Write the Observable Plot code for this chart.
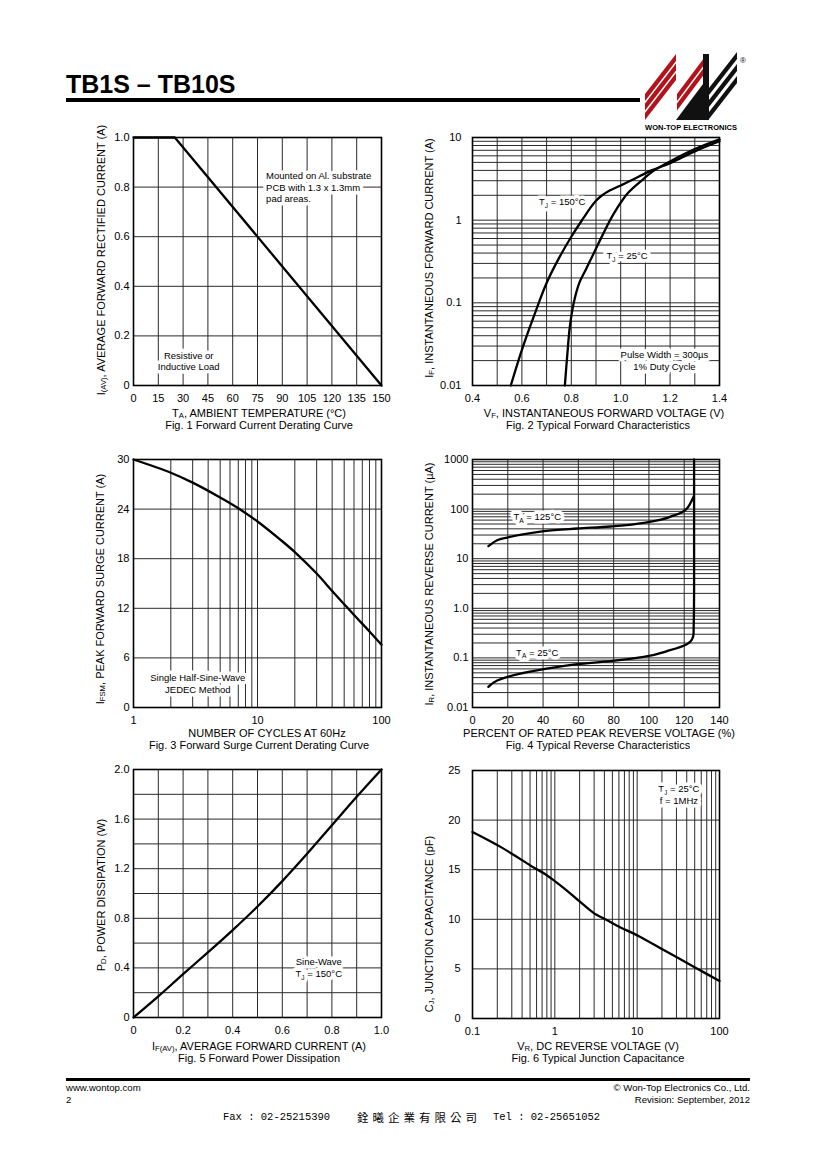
<!DOCTYPE html>
<html>
<head>
<meta charset="utf-8">
<script src="https://cdn.jsdelivr.net/npm/d3@7"></script>
<script src="https://cdn.jsdelivr.net/npm/@observablehq/plot@0.6"></script>
<style>
  html, body { margin: 0; padding: 0; background: #fff; }
  #page { position: relative; width: 820px; height: 1160px; background: #fff; overflow: hidden;
          font-family: 'Liberation Sans', Arial, Helvetica, sans-serif; color: #000; }
  .abs { position: absolute; white-space: nowrap; }
  .cap { transform: translate(-50%, -50%); font-size: 11px; line-height: 12px; text-align: center; }
  .rot { transform: translate(-50%, -50%) rotate(-90deg); font-size: 11px; line-height: 13px; }
  sub { font-size: 0.7em; vertical-align: -0.15em; line-height: 0; }
</style>
</head>
<body>
<div id="page"></div>
<script>
// ---------------- DATA ----------------
// Fig. 1 Forward current derating
const fig1Temp = [0, 25, 150];
const fig1Current = [1.0, 1.0, 0];
const fig1XTicks = [0, 15, 30, 45, 60, 75, 90, 105, 120, 135, 150];
const fig1YTicks = [0, 0.2, 0.4, 0.6, 0.8, 1.0];
const fig1YLabels = ["0", "0.2", "0.4", "0.6", "0.8", "1.0"];

// Fig. 2 Typical forward characteristics
const fig2V150 = [0.555, 0.6, 0.65, 0.7, 0.75, 0.8, 0.85, 0.875, 0.9, 0.925, 0.95, 1.0, 1.05, 1.12, 1.2, 1.3, 1.4];
const fig2I150 = [0.01, 0.027, 0.071, 0.174, 0.347, 0.63, 1.07, 1.38, 1.72, 2.0, 2.24, 2.63, 3.1, 3.95, 4.9, 6.8, 9.0];
const fig2V25 = [0.774, 0.784, 0.794, 0.81, 0.831, 0.86, 0.891, 0.93, 0.972, 1.03, 1.093, 1.13, 1.2, 1.3, 1.4];
const fig2I25 = [0.01, 0.024, 0.051, 0.1, 0.17, 0.257, 0.398, 0.692, 1.2, 2.14, 3.16, 3.89, 5.13, 7.24, 9.5];
const fig2XGrid = [0.4, 0.5, 0.6, 0.7, 0.8, 0.9, 1.0, 1.1, 1.2, 1.3, 1.4];
const fig2XTicks = [0.4, 0.6, 0.8, 1.0, 1.2, 1.4];
const fig2XLabels = ["0.4", "0.6", "0.8", "1.0", "1.2", "1.4"];
const fig2YGrid = [0.01, 0.02, 0.03, 0.04, 0.05, 0.06, 0.07, 0.08, 0.09,
                   0.1, 0.2, 0.3, 0.4, 0.5, 0.6, 0.7, 0.8, 0.9,
                   1, 2, 3, 4, 5, 6, 7, 8, 9, 10];
const fig2YTicks = [0.01, 0.1, 1, 10];
const fig2YLabels = ["0.01", "0.1", "1", "10"];

// Fig. 3 Forward surge current derating
const fig3Cycles = [1, 2, 3, 5, 7, 10, 15, 20, 30, 40, 50, 60, 80, 100];
const fig3Current = [30, 28.4, 27.2, 25.4, 24.1, 22.5, 20.4, 18.8, 16.2, 14.1, 12.5, 11.2, 9.2, 7.6];
const fig3XGrid = [1, 2, 3, 4, 5, 6, 7, 8, 9, 10, 20, 30, 40, 50, 60, 70, 80, 90, 100];
const fig3XTicks = [1, 10, 100];
const fig3YTicks = [0, 6, 12, 18, 24, 30];

// Fig. 4 Typical reverse characteristics
const fig4Pct125 = [9, 14, 19.8, 40.5, 59.4, 78.2, 97, 112, 121.5, 125.3];
const fig4Ir125 = [17.9, 23.5, 26.7, 35.9, 40.6, 44.6, 52.8, 69.8, 102, 177];
const fig4Pct25 = [9, 14, 19.8, 40.5, 59.4, 78.2, 97, 112, 121.5, 124.4, 125.3, 125.6, 125.6];
const fig4Ir25 = [0.0261, 0.035, 0.0415, 0.0593, 0.0748, 0.0859, 0.105, 0.143, 0.189, 0.235, 0.31, 2.3, 1000];
const fig4XTicks = [0, 20, 40, 60, 80, 100, 120, 140];
const fig4YGrid = [0.01, 0.02, 0.03, 0.04, 0.05, 0.06, 0.07, 0.08, 0.09,
                   0.1, 0.2, 0.3, 0.4, 0.5, 0.6, 0.7, 0.8, 0.9,
                   1, 2, 3, 4, 5, 6, 7, 8, 9,
                   10, 20, 30, 40, 50, 60, 70, 80, 90,
                   100, 200, 300, 400, 500, 600, 700, 800, 900, 1000];
const fig4YTicks = [0.01, 0.1, 1, 10, 100, 1000];
const fig4YLabels = ["0.01", "0.1", "1.0", "10", "100", "1000"];

// Fig. 5 Forward power dissipation
const fig5Current = [0, 0.1, 0.2, 0.3, 0.4, 0.5, 0.6, 0.7, 0.8, 0.9, 1.0];
const fig5Power = [0, 0.17, 0.35, 0.525, 0.705, 0.895, 1.1, 1.32, 1.55, 1.78, 2.0];
const fig5XGrid = [0, 0.1, 0.2, 0.3, 0.4, 0.5, 0.6, 0.7, 0.8, 0.9, 1.0];
const fig5XTicks = [0, 0.2, 0.4, 0.6, 0.8, 1.0];
const fig5XLabels = ["0", "0.2", "0.4", "0.6", "0.8", "1.0"];
const fig5YGrid = [0, 0.2, 0.4, 0.6, 0.8, 1.0, 1.2, 1.4, 1.6, 1.8, 2.0];
const fig5YTicks = [0, 0.4, 0.8, 1.2, 1.6, 2.0];
const fig5YLabels = ["0", "0.4", "0.8", "1.2", "1.6", "2.0"];

// Fig. 6 Typical junction capacitance
const fig6Voltage = [0.1, 0.23, 0.56, 0.75, 0.98, 1.4, 2, 3, 4, 5.7, 10.5, 21, 53, 100];
const fig6Cap = [18.8, 17.2, 15.2, 14.6, 13.9, 12.9, 11.8, 10.6, 10.05, 9.35, 8.3, 6.9, 5.05, 3.78];
const fig6XGrid = [0.1, 0.2, 0.3, 0.4, 0.5, 0.6, 0.7, 0.8, 0.9,
                   1, 2, 3, 4, 5, 6, 7, 8, 9,
                   10, 20, 30, 40, 50, 60, 70, 80, 90, 100];
const fig6XTicks = [0.1, 1, 10, 100];
const fig6XLabels = ["0.1", "1", "10", "100"];
const fig6YTicks = [0, 5, 10, 15, 20, 25];

// ---------------- RENDER ----------------
const FONT = "'Liberation Sans', Arial, Helvetica, sans-serif";
const GRID = "#2a2a2a";
const page = document.getElementById("page");

function lbl(ticks, labels) { return d => labels[ticks.indexOf(d)] ?? ""; }

function subs(svg) {
  const NS = "http://www.w3.org/2000/svg";
  svg.querySelectorAll("text, tspan").forEach(el => {
    if (el.childElementCount) return;
    const s = el.textContent;
    if (!s.includes("{")) return;
    el.textContent = "";
    let open = false;
    s.split(/(\{[^}]*\})/).forEach(p => {
      if (!p) return;
      const t = document.createElementNS(NS, "tspan");
      if (p[0] === "{") {
        t.textContent = p.slice(1, -1);
        t.setAttribute("style", "font-size:0.7em");
        t.setAttribute("dy", "2.5");
        open = true;
      } else {
        t.textContent = p;
        if (open) { t.setAttribute("dy", "-2.5"); open = false; }
      }
      el.appendChild(t);
    });
  });
}

function makeChart({left, top, marginRight, x, y, gridX, gridY, series, notes, padY}) {
  const marks = [
    Plot.ruleX(gridX, {stroke: GRID, strokeWidth: 1}),
    Plot.ruleY(gridY, {stroke: GRID, strokeWidth: 1}),
    ...notes.map(n => Plot.text([n], {
      x: d => d.x, y: d => d.y, text: d => d.text,
      textAnchor: n.anchor || "middle", lineAnchor: "middle", lineHeight: 1.22,
      fontSize: 9.5, fill: "black", stroke: "white", strokeWidth: 7, paintOrder: "stroke"
    })),
    Plot.frame({stroke: "black", strokeWidth: 1.6}),
    ...series.map(s => Plot.line(d3.zip(s.x, s.y), {
      x: d => d[0], y: d => d[1], curve: s.curve || "catmull-rom",
      stroke: "black", strokeWidth: 2.3
    }))
  ];
  const svg = Plot.plot({
    width: 320, height: 280,
    marginLeft: 60, marginRight, marginTop: 10, marginBottom: 22,
    style: {fontFamily: FONT, fontSize: "11px", color: "black", background: "transparent", overflow: "visible"},
    x: {...x, tickSize: 0, tickPadding: 9, label: null},
    y: {...y, tickSize: 0, tickPadding: padY, label: null},
    marks
  });
  subs(svg);
  svg.style.position = "absolute";
  svg.style.left = left + "px";
  svg.style.top = top + "px";
  page.appendChild(svg);
}

// Fig. 1
makeChart({
  left: 73, top: 127, marginRight: 12, padY: 4,
  x: {domain: [0, 150], ticks: fig1XTicks, tickFormat: d => String(d)},
  y: {domain: [0, 1], ticks: fig1YTicks, tickFormat: lbl(fig1YTicks, fig1YLabels)},
  gridX: fig1XTicks, gridY: fig1YTicks,
  series: [{x: fig1Temp, y: fig1Current, curve: "linear"}],
  notes: [
    {x: 80.2, y: 0.80, text: "Mounted on Al. substrate\nPCB with 1.3 x 1.3mm\npad areas.", anchor: "start"},
    {x: 33.4, y: 0.10, text: "Resistive or\nInductive Load"}
  ]
});

// Fig. 2
makeChart({
  left: 412, top: 127, marginRight: 13, padY: 11,
  x: {domain: [0.4, 1.4], ticks: fig2XTicks, tickFormat: lbl(fig2XTicks, fig2XLabels)},
  y: {type: "log", domain: [0.01, 10], ticks: fig2YTicks, tickFormat: lbl(fig2YTicks, fig2YLabels)},
  gridX: fig2XGrid, gridY: fig2YGrid,
  series: [{x: fig2V150, y: fig2I150}, {x: fig2V25, y: fig2I25}],
  notes: [
    {x: 0.763, y: 1.68, text: "T{J} = 150°C"},
    {x: 1.026, y: 0.374, text: "T{J} = 25°C"},
    {x: 1.177, y: 0.0203, text: "Pulse Width = 300µs\n1% Duty Cycle"}
  ]
});

// Fig. 3
makeChart({
  left: 73, top: 449, marginRight: 12, padY: 4,
  x: {type: "log", domain: [1, 100], ticks: fig3XTicks, tickFormat: d => String(d)},
  y: {domain: [0, 30], ticks: fig3YTicks, tickFormat: d => String(d)},
  gridX: fig3XGrid, gridY: fig3YTicks,
  series: [{x: fig3Cycles, y: fig3Current}],
  notes: [
    {x: 3.3, y: 2.96, text: "Single Half-Sine-Wave\nJEDEC Method"}
  ]
});

// Fig. 4
makeChart({
  left: 412, top: 449, marginRight: 13, padY: 4,
  x: {domain: [0, 140], ticks: fig4XTicks, tickFormat: d => String(d)},
  y: {type: "log", domain: [0.01, 1000], ticks: fig4YTicks, tickFormat: lbl(fig4YTicks, fig4YLabels)},
  gridX: fig4XTicks, gridY: fig4YGrid,
  series: [{x: fig4Pct125, y: fig4Ir125, curve: "monotone-x"}, {x: fig4Pct25, y: fig4Ir25, curve: "monotone-y"}],
  notes: [
    {x: 36.7, y: 71, text: "T{A} = 125°C"},
    {x: 36.7, y: 0.13, text: "T{A} = 25°C"}
  ]
});

// Fig. 5
makeChart({
  left: 73, top: 759, marginRight: 12, padY: 4,
  x: {domain: [0, 1], ticks: fig5XTicks, tickFormat: lbl(fig5XTicks, fig5XLabels)},
  y: {domain: [0, 2], ticks: fig5YTicks, tickFormat: lbl(fig5YTicks, fig5YLabels)},
  gridX: fig5XGrid, gridY: fig5YGrid,
  series: [{x: fig5Current, y: fig5Power}],
  notes: [
    {x: 0.747, y: 0.403, text: "Sine-Wave\nT{J} = 150°C"}
  ]
});

// Fig. 6
makeChart({
  left: 412, top: 760, marginRight: 13, padY: 12,
  x: {type: "log", domain: [0.1, 100], ticks: fig6XTicks, tickFormat: lbl(fig6XTicks, fig6XLabels)},
  y: {domain: [0, 25], ticks: fig6YTicks, tickFormat: d => String(d)},
  gridX: fig6XGrid, gridY: fig6YTicks,
  series: [{x: fig6Voltage, y: fig6Cap}],
  notes: [
    {x: 32.1, y: 22.6, text: "T{J} = 25°C\nf = 1MHz"}
  ]
});

// ---------------- TEXT ----------------
function addText(html, cls, x, y, extra) {
  const d = document.createElement("div");
  d.className = "abs " + cls;
  d.style.left = x + "px";
  d.style.top = y + "px";
  if (extra) Object.assign(d.style, extra);
  d.innerHTML = html;
  page.appendChild(d);
  return d;
}
function axisCaption(title, caption, shift, cx, cy) {
  return addText(`<span style="position:relative;left:${shift}px">${title}</span><br>${caption}`, "cap", cx, cy);
}

// Y axis titles
addText("I<sub>(AV)</sub>, AVERAGE FORWARD RECTIFIED CURRENT (A)", "rot", 100.5, 260);
addText("I<sub>F</sub>, INSTANTANEOUS FORWARD CURRENT (A)", "rot", 429, 258);
addText("I<sub>FSM</sub>, PEAK FORWARD SURGE CURRENT (A)", "rot", 100, 589);
addText("I<sub>R</sub>, INSTANTANEOUS REVERSE CURRENT (µA)", "rot", 429, 584);
addText("P<sub>D</sub>, POWER DISSIPATION (W)", "rot", 100.5, 895);
addText("C<sub>J</sub>, JUNCTION CAPACITANCE (pF)", "rot", 429, 924);

// X axis titles and captions (two lines each)
axisCaption("T<sub>A</sub>, AMBIENT TEMPERATURE (°C)", "Fig. 1 Forward Current Derating Curve", 0, 259, 419);
axisCaption("V<sub>F</sub>, INSTANTANEOUS FORWARD VOLTAGE (V)", "Fig. 2 Typical Forward Characteristics", 6, 598, 419);
axisCaption("NUMBER OF CYCLES AT 60Hz", "Fig. 3 Forward Surge Current Derating Curve", 8, 259, 739);
axisCaption("PERCENT OF RATED PEAK REVERSE VOLTAGE (%)", "Fig. 4 Typical Reverse Characteristics", 1, 598, 739);
axisCaption("I<sub>F(AV)</sub>, AVERAGE FORWARD CURRENT (A)", "Fig. 5 Forward Power Dissipation", 0, 259, 1051.5);
axisCaption("V<sub>R</sub>, DC REVERSE VOLTAGE (V)", "Fig. 6 Typical Junction Capacitance", 0, 598, 1051.5);

// Header
addText("TB1S – TB10S", "", 66, 72, {fontSize: "25px", fontWeight: "bold", lineHeight: "25px"});
addText("", "", 66, 98, {width: "574px", height: "4px", background: "#000"});
addText("WON-TOP ELECTRONICS", "", 691, 127, {fontSize: "7.5px", fontWeight: "bold", lineHeight: "9px", transform: "translate(-50%,-50%)"});
addText("®", "", 743, 60, {fontSize: "8px", lineHeight: "9px", transform: "translate(-50%,-50%)"});

// Logo (decorative)
const logo = document.createElementNS("http://www.w3.org/2000/svg", "svg");
logo.setAttribute("width", "110"); logo.setAttribute("height", "80");
logo.setAttribute("viewBox", "640 48 110 80");
logo.style.position = "absolute"; logo.style.left = "640px"; logo.style.top = "48px";
logo.innerHTML = `
  <g fill="#b3121b">
    <polygon points="645,94 676,54 676,61 645,101"/>
    <polygon points="645,103.5 676,63.5 676,70.5 645,110.5"/>
    <polygon points="645,113 676,73 676,80 645,120"/>
    <polygon points="677,94 707,54 707,61 677,101"/>
    <polygon points="677,103.5 707,63.5 707,70.5 677,110.5"/>
  </g>
  <g fill="#111">
    <polygon points="676,120 709,120 709,54 703,54 703,84"/>
    <polygon points="709,88 737,52 737,59 709,95"/>
    <polygon points="709,100 737,64 737,71 709,107"/>
    <polygon points="709,112 737,76 737,83 709,119"/>
  </g>`;
page.appendChild(logo);

// Footer
addText("", "", 66, 1078, {width: "684px", height: "3px", background: "#000"});
addText("www.wontop.com<br>2", "", 66, 1082, {fontSize: "9.6px", lineHeight: "11.5px"});
addText("© Won-Top Electronics Co., Ltd.<br>Revision: September, 2012", "", 0, 1082, {fontSize: "9.6px", lineHeight: "11.5px", left: "auto", right: "70px", textAlign: "right"});
addText("Fax : 02-25215390", "", 223, 1110, {fontFamily: "'Liberation Mono', 'DejaVu Sans Mono', monospace", fontSize: "10.5px", lineHeight: "14px"});
addText("銓曦企業有限公司", "", 357, 1110, {fontFamily: "'Noto Sans CJK TC', 'Noto Sans CJK SC', sans-serif", fontSize: "11.5px", lineHeight: "14px", letterSpacing: "4px"});
addText("Tel : 02-25651052", "", 493, 1110, {fontFamily: "'Liberation Mono', 'DejaVu Sans Mono', monospace", fontSize: "10.5px", lineHeight: "14px"});
</script>
</body>
</html>
